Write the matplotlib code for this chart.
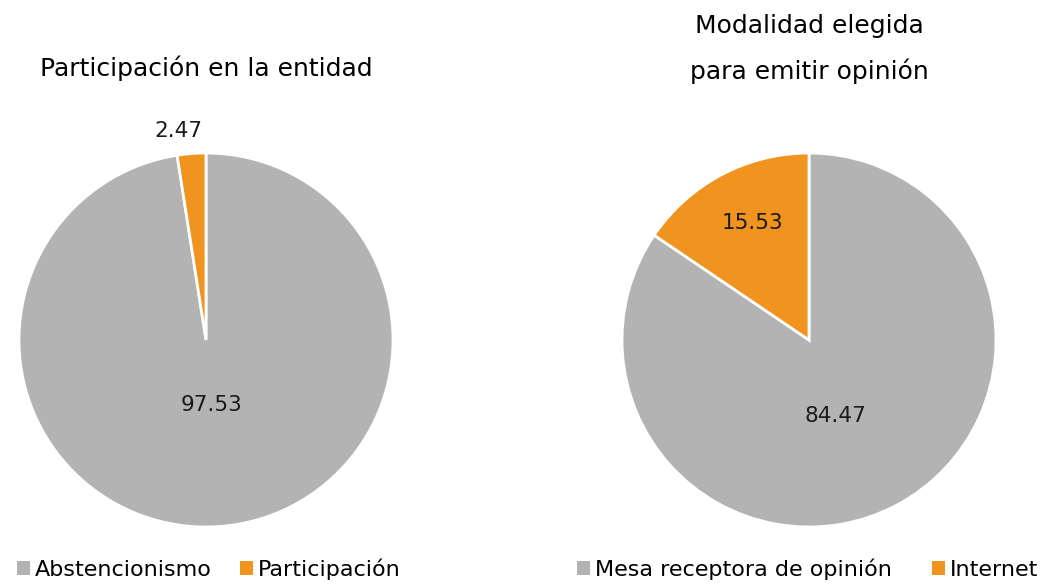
import numpy as np
import matplotlib.pyplot as plt
from matplotlib.patches import Patch

# data
left_title = 'Participación en la entidad'
left_labels = ['Abstencionismo', 'Participación']
left_values = [97.53, 2.47]

right_title = 'Modalidad elegida\npara emitir opinión'
right_labels = ['Mesa receptora de opinión', 'Internet']
right_values = [84.47, 15.53]

colors = ['#b3b3b4', '#f0931f']

plt.rcParams['font.family'] = ['DejaVu Sans']

W, H = 1045, 587
fig = plt.figure(figsize=(W / 100, H / 100), dpi=100)


def pie_axes(cx, cy, r):
    # axes box in pixels, centered on the pie
    return fig.add_axes([(cx - r) / W, (H - cy - r) / H, 2 * r / W, 2 * r / H])


def draw_pie(ax, values, label_r, label_shift):
    wedges, _ = ax.pie(values, colors=colors, startangle=90, counterclock=False,
                       radius=1, wedgeprops=dict(edgecolor='white', linewidth=2))
    for w, v, r, (sx, sy) in zip(wedges, values, label_r, label_shift):
        ang = np.deg2rad((w.theta1 + w.theta2) / 2)
        ax.text(r * np.cos(ang) + sx, r * np.sin(ang) + sy, f'{v:.2f}',
                ha='center', va='center', fontsize=15.5, color='#1a1a1a')
    ax.set_xlim(-1, 1)
    ax.set_ylim(-1, 1)
    ax.axis('off')


ax1 = pie_axes(206, 340, 187)
draw_pie(ax1, left_values, [0.35, 1.12], [(0, 0), (-0.06, 0)])

ax2 = pie_axes(809, 340, 187)
draw_pie(ax2, right_values, [0.45, 0.71], [(-0.07, -0.01), (0.03, 0)])

fig.text(206 / W, 1 - 68 / H, left_title, ha='center', va='center', fontsize=18)
fig.text(809 / W, 1 - 48.5 / H, right_title, ha='center', va='center', fontsize=18,
         linespacing=2.0)

# legends
def add_legend(x, labels, spacing):
    handles = [Patch(facecolor=c, edgecolor='none') for c in colors]
    fig.legend(handles, labels, loc='center left', bbox_to_anchor=(x / W, 1 - 569 / H),
               ncol=2, frameon=False, fontsize=16, handlelength=0.6, handleheight=0.6,
               handletextpad=0.2, columnspacing=spacing, borderaxespad=0, borderpad=0)

add_legend(17, left_labels, 1.27)
add_legend(577, right_labels, 1.8)

fig.savefig('out.png', dpi=100)
